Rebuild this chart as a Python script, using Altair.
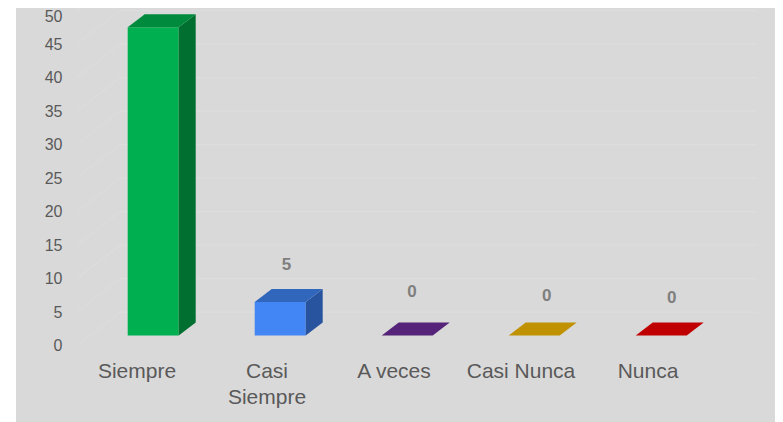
import altair as alt
import pandas as pd

categories = ["Siempre", "Casi\nSiempre", "A veces", "Casi Nunca", "Nunca"]
values = [46, 5, 0, 0, 0]
value_labels = ["46", "5", "0", "0", "0"]
show_label = [False, True, True, True, True]
front_colors = ["#00b050", "#4285f4", "#5b2585", "#c79500", "#c80000"]
top_colors = ["#008a3e", "#3066bb", "#552379", "#c09100", "#c00000"]
side_colors = ["#006f2f", "#28549f", "#441c61", "#9a7400", "#9a0000"]
y_ticks = [0, 5, 10, 15, 20, 25, 30, 35, 40, 45, 50]

# layout constants (pixels on the page)
PX_PER_UNIT = 6.7
SLOT = 127.0
FIRST_BAR = 127.7
ZERO_PX = 345.5
BAR_W = 51.0 / SLOT
DX = 17.0 / SLOT
DY = 13.0 / PX_PER_UNIT
BASE = 10.0 / PX_PER_UNIT
WALL_DY = 33.3 / PX_PER_UNIT
WALL_X0 = (120 - FIRST_BAR) / SLOT
WALL_X1 = (757 - FIRST_BAR) / SLOT
FLOOR_X0 = (77 - FIRST_BAR) / SLOT
W = 759
H = 414

def ux(px):
    return (px - FIRST_BAR) / SLOT

def uy(px):
    return (ZERO_PX - px) / PX_PER_UNIT

label_x = [137, 267, 394, 521, 648]
value_label_x = [0, 286.5, 412, 546.7, 671.7]
value_label_y = [0, 264.7, 292, 295.7, 297.7]

x_scale = alt.Scale(domain=[ux(16), ux(16 + W)], nice=False, zero=False)
y_scale = alt.Scale(domain=[uy(8 + H), uy(8)], nice=False, zero=False)
y_axis = alt.Axis(
    values=y_ticks, title=None, grid=False, domain=False, ticks=False,
    labelFont="Liberation Sans", labelFontSize=16, labelColor="#595959",
    labelPadding=2, offset=-48, labelBound=False, labelFlush=False,
    labelOverlap=False,
    labelOffset={"condition": {"test": "datum.value === 50", "value": 6}, "value": 0})
X = lambda f: alt.X(f, type="quantitative", scale=x_scale, axis=None)
Y = lambda f: alt.Y(f, type="quantitative", scale=y_scale, axis=y_axis)

grid = pd.DataFrame({
    "v": y_ticks,
    "x0": WALL_X0, "x1": WALL_X1,
    "floor": FLOOR_X0,
    "yb": [t + WALL_DY for t in y_ticks],
})

GRID = "#dedede"
back = alt.Chart(grid).mark_rule(color=GRID, strokeWidth=1, clip=True).encode(
    x=X("x0"), x2="x1", y=Y("yb"),
)
diag = alt.Chart(grid).mark_rule(color=GRID, strokeWidth=1, clip=True).encode(
    x=X("floor"), x2="x0", y=Y("v"), y2="yb",
)

rows = pd.DataFrame({
    "cat": categories,
    "slot": list(range(len(categories))),
    "value": values,
    "front": front_colors,
})
rows["x0"] = rows["slot"]
rows["x1"] = rows["slot"] + BAR_W
rows["y0"] = BASE
rows["y1"] = rows["value"] + BASE

front = alt.Chart(rows[rows["value"] > 0]).mark_rect(strokeWidth=0).encode(
    x=X("x0"), x2="x1", y=Y("y0"), y2="y1",
    color=alt.Color("front:N", scale=None),
)

side_rows, top_rows = [], []
for i, v in enumerate(values):
    xr = i + BAR_W
    for t, xx in enumerate([xr, xr + DX]):
        side_rows.append({"cat": str(i), "px": xx,
                          "lo": BASE + t * DY, "hi": v + BASE + t * DY,
                          "c": side_colors[i]})
    for t in range(2):
        top_rows.append({"cat": str(i), "py": v + BASE + t * DY,
                         "lo": i + t * DX, "hi": xr + t * DX,
                         "c": top_colors[i]})
side_df = pd.DataFrame(side_rows)
side_df = side_df[side_df["hi"] - side_df["lo"] > 0.01]
side = alt.Chart(side_df).mark_area(orient="vertical").encode(
    x=X("px"), y=Y("lo"), y2="hi",
    color=alt.Color("c:N", scale=None),
    detail="cat:N",
)
top = alt.Chart(pd.DataFrame(top_rows)).mark_area(orient="horizontal").encode(
    y=Y("py"), x=X("lo"), x2="hi",
    color=alt.Color("c:N", scale=None),
    detail="cat:N",
)

cats = pd.DataFrame({
    "label": categories,
    "x": [ux(p) for p in label_x],
    "y": [uy(371.5)] * len(categories),
})
x_labels = alt.Chart(cats).mark_text(
    font="Liberation Sans", fontSize=21, color="#595959", lineBreak="\n",
    lineHeight=26, baseline="middle", align="center").encode(
    x=X("x"), y=Y("y"), text="label:N")

vl = pd.DataFrame({
    "t": value_labels,
    "show": show_label,
    "x": [ux(p) for p in value_label_x],
    "y": [uy(p) for p in value_label_y],
})
val_text = alt.Chart(vl[vl["show"]]).mark_text(
    font="Liberation Sans", fontSize=17, fontWeight="bold", color="#7f7f7f",
    baseline="middle", align="center").encode(
    x=X("x"), y=Y("y"), text="t:N")

chart = alt.layer(back, diag, front, side, top, x_labels, val_text).properties(
    width=W, height=H,
    padding={"left": 8, "top": 0, "right": 0, "bottom": 0},
    background="#ffffff",
    autosize=alt.AutoSizeParams(type="none"),
).configure_view(fill="#d9d9d9", stroke=None)

chart.save("out.html", embed_options={"renderer": "svg", "actions": False})
